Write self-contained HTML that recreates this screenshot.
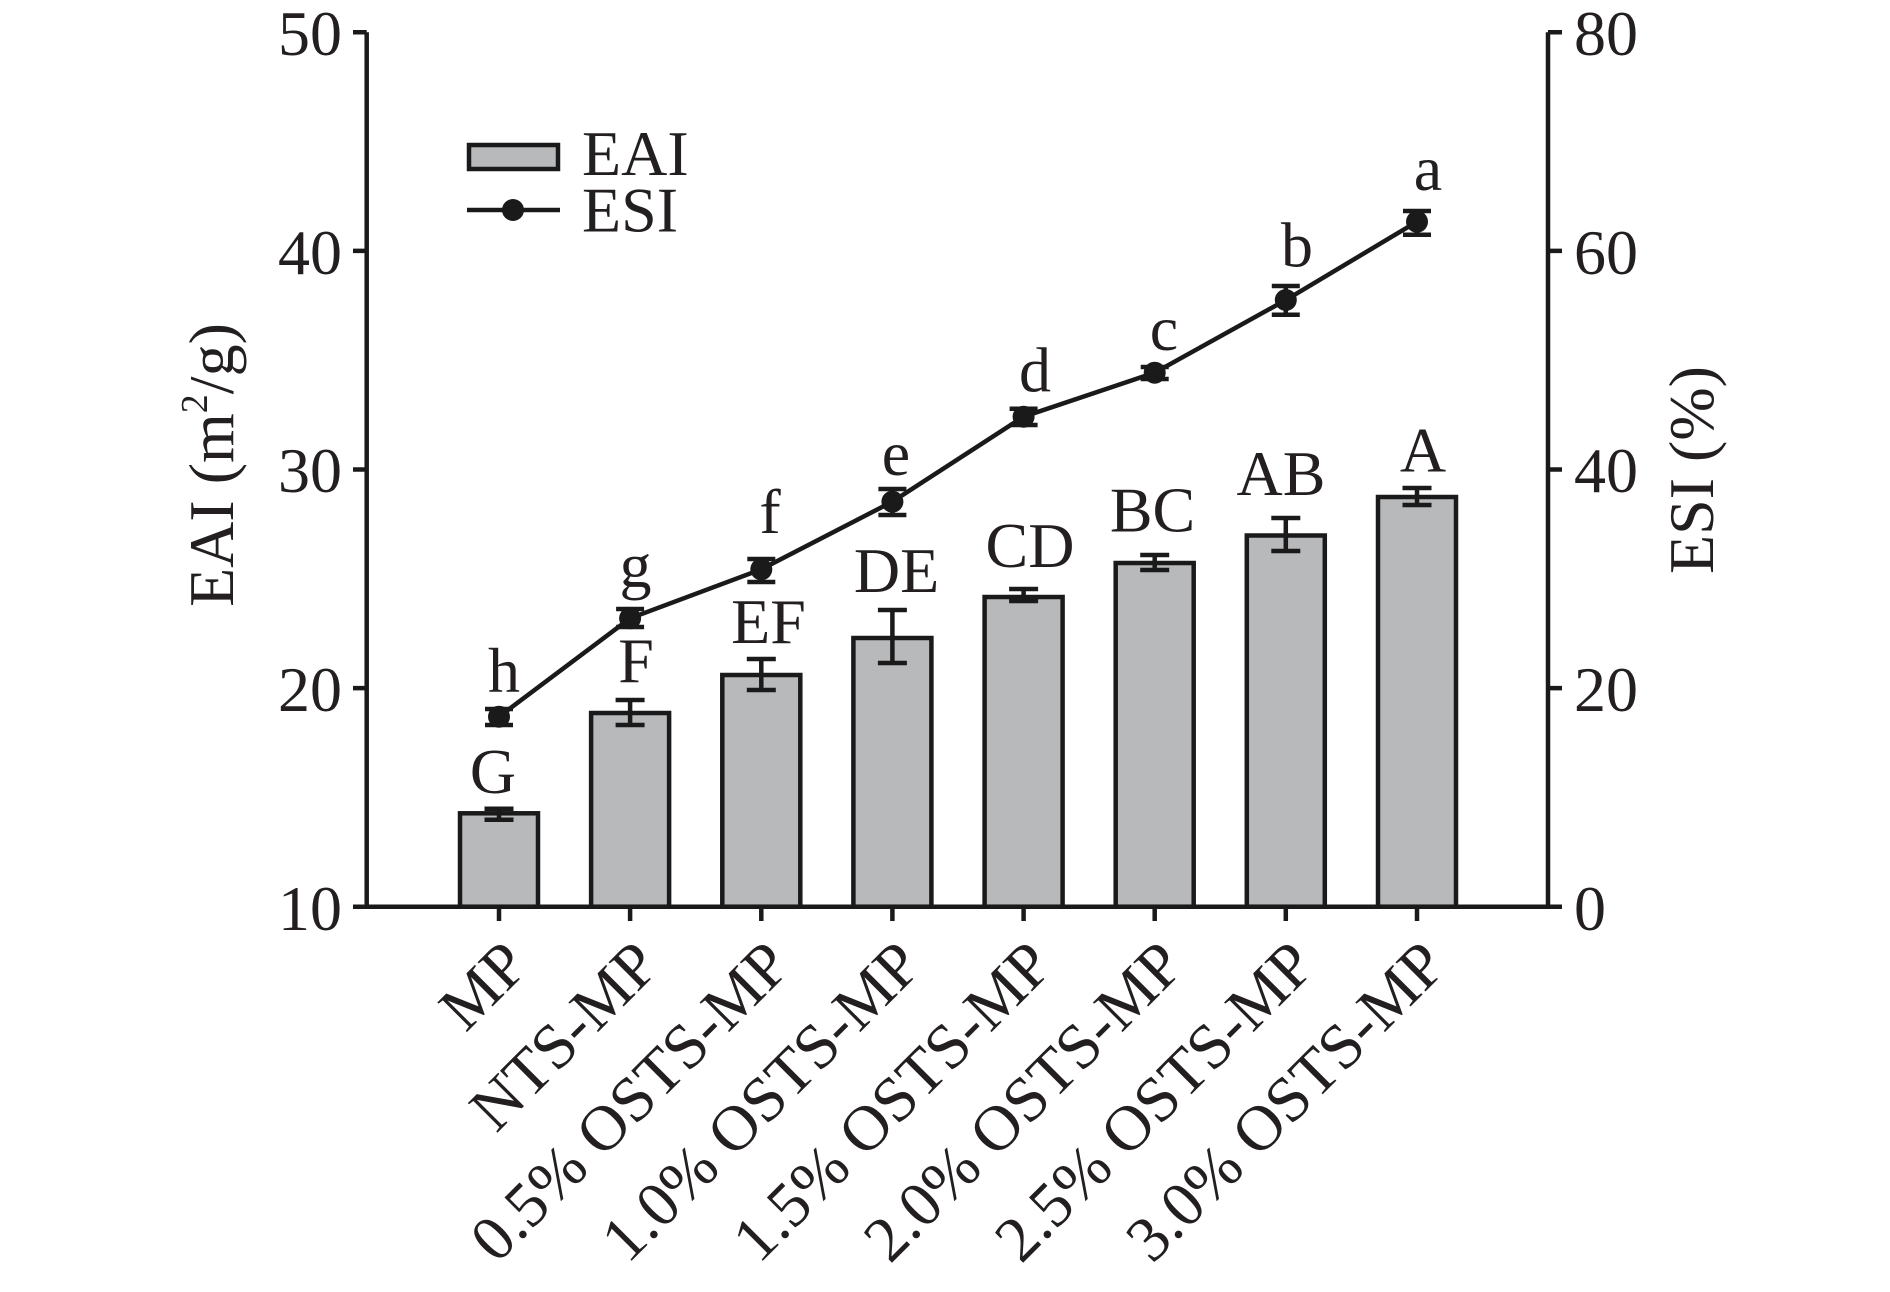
<!DOCTYPE html>
<html><head><meta charset="utf-8"><style>
html,body{margin:0;padding:0;background:#fff;}
svg{display:block;}
text{font-family:"Liberation Serif","Times New Roman",serif;fill:#231f20;}
</style></head><body>
<svg width="1890" height="1292" viewBox="0 0 1890 1292" xmlns="http://www.w3.org/2000/svg">
<rect width="1890" height="1292" fill="#fff"/>
<g stroke="#1a1a1a" stroke-width="4.5" fill="#b8b9bb">
<rect x="460" y="813.3" width="78" height="93.4"/>
<rect x="591.1" y="713" width="78" height="193.7"/>
<rect x="722.3" y="675" width="78" height="231.7"/>
<rect x="853.4" y="638" width="78" height="268.7"/>
<rect x="984.6" y="597" width="78" height="309.7"/>
<rect x="1115.7" y="563" width="78" height="343.7"/>
<rect x="1246.8" y="535.5" width="78" height="371.2"/>
<rect x="1378" y="497" width="78" height="409.7"/>
</g>
<g stroke="#1a1a1a" stroke-width="4.5" fill="none">
<path d="M499 808.7V819.7M484.5 808.7H513.5M484.5 819.7H513.5"/>
<path d="M630.1 700V725M615.6 700H644.6M615.6 725H644.6"/>
<path d="M761.3 659V690M746.8 659H775.8M746.8 690H775.8"/>
<path d="M892.4 610V663M877.9 610H906.9M877.9 663H906.9"/>
<path d="M1023.6 589V601M1009.1 589H1038.1M1009.1 601H1038.1"/>
<path d="M1154.7 555V570M1140.2 555H1169.2M1140.2 570H1169.2"/>
<path d="M1285.8 518V551M1271.3 518H1300.3M1271.3 551H1300.3"/>
<path d="M1417 488V505M1402.5 488H1431.5M1402.5 505H1431.5"/>
</g>
<polyline fill="none" stroke="#1a1a1a" stroke-width="4.5" points="499,716.7 630.1,618.3 761.3,569.3 892.4,501.7 1023.6,416.7 1154.7,372.7 1285.8,300 1417,221.7"/>
<g stroke="#1a1a1a" stroke-width="4.5" fill="none">
<path d="M499 709V725M485 709H513M485 725H513"/>
<path d="M630.1 609V627M616.1 609H644.1M616.1 627H644.1"/>
<path d="M761.3 559V582M747.3 559H775.3M747.3 582H775.3"/>
<path d="M892.4 489V515M878.4 489H906.4M878.4 515H906.4"/>
<path d="M1023.6 408.7V425M1009.6 408.7H1037.6M1009.6 425H1037.6"/>
<path d="M1154.7 367V379M1140.7 367H1168.7M1140.7 379H1168.7"/>
<path d="M1285.8 286V314.7M1271.8 286H1299.8M1271.8 314.7H1299.8"/>
<path d="M1417 211V234.7M1403 211H1431M1403 234.7H1431"/>
</g>
<g fill="#1a1a1a">
<circle cx="499" cy="716.7" r="11"/>
<circle cx="630.1" cy="618.3" r="11"/>
<circle cx="761.3" cy="569.3" r="11"/>
<circle cx="892.4" cy="501.7" r="11"/>
<circle cx="1023.6" cy="416.7" r="11"/>
<circle cx="1154.7" cy="372.7" r="11"/>
<circle cx="1285.8" cy="300" r="11"/>
<circle cx="1417" cy="221.7" r="11"/>
</g>
<g stroke="#1a1a1a" stroke-width="4.5" fill="none">
<path d="M366.7 32.3V906.7"/>
<path d="M1548 32.3V906.7"/>
<path d="M353 906.7H1562"/>
<path d="M353 32.3H366.7M353 250.9H366.7M353 469.5H366.7M353 688.1H366.7"/>
<path d="M1548 32.3H1562M1548 250.9H1562M1548 469.5H1562M1548 688.1H1562"/>
<path d="M499 906.7V921M630.1 906.7V921M761.3 906.7V921M892.4 906.7V921M1023.6 906.7V921M1154.7 906.7V921M1285.8 906.7V921M1417 906.7V921"/>
</g>
<g font-size="64" text-anchor="end">
<text x="342" y="55">50</text>
<text x="342" y="274">40</text>
<text x="342" y="492">30</text>
<text x="342" y="711">20</text>
<text x="342" y="930">10</text>
</g>
<g font-size="64" text-anchor="start">
<text x="1574" y="55">80</text>
<text x="1574" y="274">60</text>
<text x="1574" y="492">40</text>
<text x="1574" y="711">20</text>
<text x="1574" y="930">0</text>
</g>
<text font-size="64" text-anchor="middle" transform="translate(233,465) rotate(-90)">EAI (m<tspan font-size="38" dy="-26">2</tspan><tspan dy="26">/g)</tspan></text>
<text font-size="64" text-anchor="middle" transform="translate(1713,470) rotate(-90)">ESI (%)</text>
<g font-size="64" text-anchor="end">
<text transform="translate(531,968) rotate(-45)">MP</text>
<text transform="translate(662.1,968) rotate(-45)">NTS-MP</text>
<text transform="translate(793.3,968) rotate(-45)">0.5% OSTS-MP</text>
<text transform="translate(924.4,968) rotate(-45)">1.0% OSTS-MP</text>
<text transform="translate(1055.6,968) rotate(-45)">1.5% OSTS-MP</text>
<text transform="translate(1186.7,968) rotate(-45)">2.0% OSTS-MP</text>
<text transform="translate(1317.8,968) rotate(-45)">2.5% OSTS-MP</text>
<text transform="translate(1449,968) rotate(-45)">3.0% OSTS-MP</text>
</g>
<g font-size="64" text-anchor="middle">
<text x="504" y="692">h</text>
<text x="635.5" y="587">g</text>
<text x="770" y="533">f</text>
<text x="896" y="475">e</text>
<text x="1035" y="391.7">d</text>
<text x="1164" y="350">c</text>
<text x="1297" y="266.7">b</text>
<text x="1428" y="190">a</text>
<text x="493" y="793">G</text>
<text x="636" y="682">F</text>
<text x="768.5" y="643">EF</text>
<text x="896.5" y="592">DE</text>
<text x="1030" y="567">CD</text>
<text x="1152.5" y="531.7">BC</text>
<text x="1281" y="495">AB</text>
<text x="1423" y="471.7">A</text>
</g>
<rect x="469" y="145" width="89" height="24" fill="#b8b9bb" stroke="#1a1a1a" stroke-width="4.5"/>
<path d="M467 210H560" stroke="#1a1a1a" stroke-width="4.5"/>
<circle cx="513" cy="210" r="11" fill="#1a1a1a"/>
<text x="582" y="175" font-size="64">EAI</text>
<text x="582" y="231.7" font-size="64">ESI</text>
</svg>
</body></html>
